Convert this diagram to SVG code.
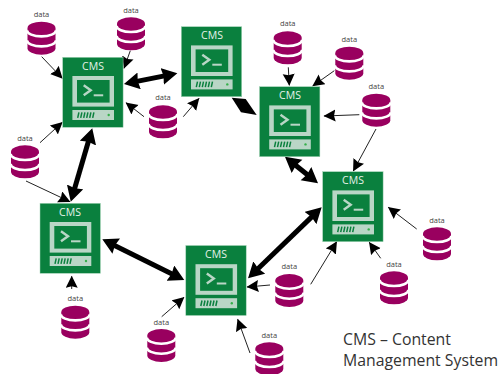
<svg xmlns="http://www.w3.org/2000/svg" width="499" height="374" viewBox="0 0 499 374">
<style>
.cms{font-family:"Open Sans","Liberation Sans",sans-serif;font-size:10.5px;fill:#e6f2ea;text-anchor:middle}
.lbl{font-family:"Open Sans","Liberation Sans",sans-serif;font-size:7.5px;fill:#444;text-anchor:middle}
.cap{font-family:"Open Sans","Liberation Sans",sans-serif;font-size:15.8px;fill:#333}
.thin{stroke:#222;stroke-width:1;fill:none;marker-end:url(#hs)}
.thick{stroke:#000;stroke-width:5;fill:none;marker-start:url(#hb);marker-end:url(#hb)}
</style>
<defs>
<marker id="hs" markerUnits="userSpaceOnUse" markerWidth="13" markerHeight="13" refX="11.5" refY="6" orient="auto"><path d="M0 0L12 6L0 12L1.5 6Z" fill="#000"/></marker>
<marker id="hb" markerUnits="userSpaceOnUse" markerWidth="18" markerHeight="18" refX="7.5" refY="8.5" orient="auto-start-reverse"><path d="M0 0L15.5 8.5L0 17L1.5 8.5Z" fill="#000"/></marker>
<g id="db">
<path d="M-14 6.5A14 6.5 0 0 1 14 6.5V26.5A14 6.5 0 0 1-14 26.5Z" fill="#99005f"/>
<path d="M-14.5 8.5A14.5 6.2 0 0 0 14.5 8.5M-14.5 18.5A14.5 6.2 0 0 0 14.5 18.5" fill="none" stroke="#fff" stroke-width="2.6"/>
</g>
<g id="box">
<rect width="60.4" height="70" fill="#0a803e" stroke="#a8d5ba" stroke-width=".5"/>
<rect x="9.7" y="18.7" width="41.6" height="30.6" fill="#b9d6c6"/>
<rect x="14.3" y="22.7" width="32.6" height="22.6" fill="#0a803e"/>
<path d="M21 28L28 33L21 38" fill="none" stroke="#b9d6c6" stroke-width="2.4"/>
<rect x="31" y="37" width="9.5" height="2" fill="#b9d6c6"/>
<rect x="9.7" y="52.7" width="41.6" height="10" fill="#b9d6c6"/>
<path d="M15 60.5L16.2 55M18 60.5L19.2 55M21 60.5L22.2 55M24 60.5L25.2 55M27 60.5L28.2 55M30 60.5L31.2 55" stroke="#0a803e" stroke-width="1.5" fill="none"/>
<circle cx="46" cy="57.7" r="1.2" fill="#35b04a"/>
</g>
</defs>
<g id="connectors">
<path class="thin" d="M41.7 56.7L62.3 78.3"/>
<path class="thin" d="M130.3 50.7L124 68.3"/>
<path class="thin" d="M144 116.7L126 102.7"/>
<path class="thin" d="M183.3 116.7L199 98.3"/>
<path class="thin" d="M40 142.7L62.3 122.3"/>
<path class="thin" d="M26 181L70 201.7"/>
<path class="thin" d="M288.3 67.3L289.3 85.3"/>
<path class="thin" d="M334.3 70.7L312.7 86"/>
<path class="thin" d="M359.3 114.7L324 116"/>
<path class="thin" d="M376 129L353.3 171"/>
<path class="thin" d="M71.7 289L71.7 276.3"/>
<path class="thin" d="M161.7 316.7L184 297.3"/>
<path class="thin" d="M250 353L237.7 319.3"/>
<path class="thin" d="M270 285L247 287"/>
<path class="thin" d="M310.7 284.3L336.7 241.7"/>
<path class="thin" d="M380.7 258.3L369.3 242.3"/>
<path class="thin" d="M416.7 229L388.3 207.3"/>
<path class="thick" d="M131.8 82.4L169.5 74.9"/>
<path d="M231.7 97.7L245.7 99L256.7 115L241 112.3Z" fill="#000"/>
<path class="thick" d="M291.2 161.7L311.8 178.3"/>
<path class="thick" d="M90 136L73 194"/>
<path class="thick" d="M109.5 242.9L177.1 276.4"/>
<path class="thick" d="M315.9 212.9L253.8 272.7"/>
</g>
<g id="cms1"><use href="#box" x="62.7" y="57.3"/><text class="cms" x="93" y="70">CMS</text></g>
<g id="cms2"><use href="#box" x="181.3" y="26.7"/><text class="cms" x="212" y="39">CMS</text></g>
<g id="cms3"><use href="#box" x="259.5" y="86.7"/><text class="cms" x="290" y="99">CMS</text></g>
<g id="cms4"><use href="#box" x="322.7" y="171.7"/><text class="cms" x="353" y="184">CMS</text></g>
<g id="cms5"><use href="#box" x="40" y="203.3"/><text class="cms" x="70" y="215.5">CMS</text></g>
<g id="cms6"><use href="#box" x="185.8" y="245.5"/><text class="cms" x="216" y="258">CMS</text></g>
<g id="db1"><text class="lbl" x="41.5" y="16.5">data</text><use href="#db" x="41.5" y="21.7"/></g>
<g id="db2"><text class="lbl" x="131" y="12.5">data</text><use href="#db" x="131" y="17.3"/></g>
<g id="db3"><text class="lbl" x="163" y="100.2">data</text><use href="#db" x="163" y="105.3"/></g>
<g id="db4"><text class="lbl" x="25" y="140.5">data</text><use href="#db" x="25" y="145.3"/></g>
<g id="db5"><text class="lbl" x="287.7" y="26.2">data</text><use href="#db" x="287.7" y="31.3"/></g>
<g id="db6"><text class="lbl" x="349.3" y="41.8">data</text><use href="#db" x="349.3" y="46.7"/></g>
<g id="db7"><text class="lbl" x="376.3" y="88.8">data</text><use href="#db" x="376.3" y="93.7"/></g>
<g id="db8"><text class="lbl" x="75.3" y="300.8">data</text><use href="#db" x="75.3" y="305.7"/></g>
<g id="db9"><text class="lbl" x="161.3" y="324.5">data</text><use href="#db" x="161.3" y="329"/></g>
<g id="db10"><text class="lbl" x="289.3" y="268.8">data</text><use href="#db" x="289.3" y="274"/></g>
<g id="db11"><text class="lbl" x="394" y="266.5">data</text><use href="#db" x="394" y="271.3"/></g>
<g id="db12"><text class="lbl" x="437" y="222.5">data</text><use href="#db" x="437" y="227.3"/></g>
<g id="db13"><text class="lbl" x="269.3" y="337.5">data</text><use href="#db" x="269.3" y="342.3"/></g>
<g id="caption"><text class="cap" x="343" y="345">CMS – Content</text><text class="cap" x="343" y="366">Management System</text></g>
</svg>
